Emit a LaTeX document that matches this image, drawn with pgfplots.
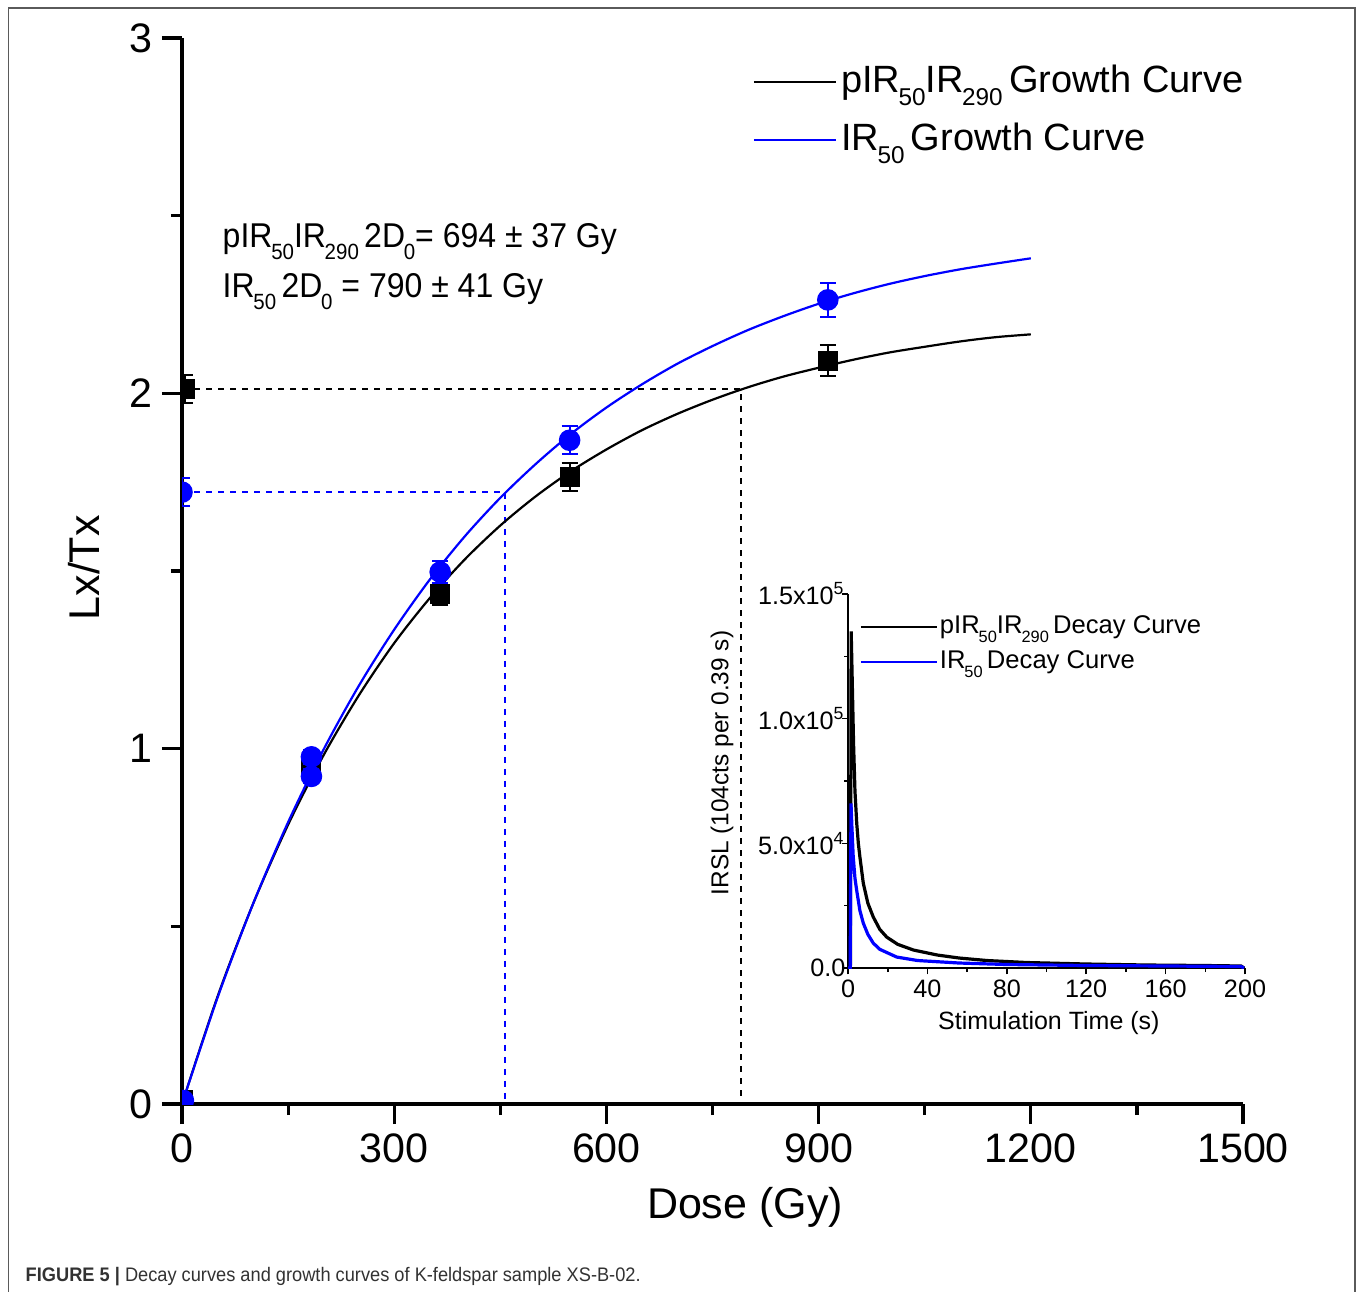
\documentclass[border=0pt]{standalone}
\usepackage{fontspec}
\setmainfont{Liberation Sans}
\usepackage{graphicx}
\usepackage{pgfplots}
\pgfplotsset{compat=1.18}

\definecolor{framegray}{RGB}{90,90,90}
\definecolor{irblue}{RGB}{0,0,255}
\definecolor{captext}{RGB}{50,50,50}

% small lowered index, as in the Origin labels
\newcommand{\sub}[1]{\kern-0.04em\raisebox{-0.34em}{\scalebox{0.64}{#1}}}

\begin{document}
\begin{tikzpicture}
\path[use as bounding box] (0,0) rectangle (339.5pt,-323pt);
\draw[framegray, line width=0.45pt] (2.1pt,-324pt) -- (2.1pt,-2.1pt) -- (338.7pt,-2.1pt) -- (338.7pt,-324pt);

% growth curves
\begin{axis}[
  at={(45.5pt,-276pt)}, anchor=south west,
  scale only axis, width=265.25pt, height=266.5pt,
  xmin=0, xmax=1500, ymin=0, ymax=3,
  axis x line*=bottom, axis y line*=left,
  axis line style={line width=0.8pt},
  xtick={0,300,...,1500}, ytick={0,1,2,3},
  minor x tick num=1, minor y tick num=1,
  tick align=outside,
  major tick length=5pt, minor tick length=2.8pt,
  every tick/.style={black, line width=0.8pt},
  tick label style={font=\fontsize{10.3}{12}\selectfont},
  xticklabel style={yshift=1pt},
  yticklabel style={xshift=1.2pt},
  /pgf/number format/assume math mode=true,
  /pgf/number format/1000 sep={},
  xlabel={Dose (Gy)}, ylabel={Lx/Tx},
  label style={font=\fontsize{10.75}{13}\selectfont},
  xlabel style={at={(axis description cs:0.5306,-0.0966)}, anchor=center},
  ylabel style={at={(axis description cs:-0.0924,0.503)}, anchor=center},
  clip marker paths=true,
  legend style={at={(rel axis cs:0.538,0.981)}, anchor=north west,
    draw=none, fill=none, inner sep=0pt, outer sep=0pt,
    font=\fontsize{9.5}{12}\selectfont, row sep=2.5pt,
    nodes={inner sep=1pt, text height=7.5pt, text depth=2.5pt}},
  legend cell align=left,
  legend image code/.code={\draw[#1] (0pt,0pt) -- (20.5pt,0pt);},
]
\addplot[black, line width=0.5pt, dash pattern=on 1.5pt off 1.5pt, forget plot]
  coordinates {(0,2.012) (790,2.012) (790,0)};
\addplot[irblue, line width=0.5pt, dash pattern=on 1.5pt off 1.5pt, forget plot]
  coordinates {(0,1.722) (457,1.722) (457,0)};

\addplot[black, line width=0.55pt, smooth] coordinates {
  (0,0) (50,0.301) (100,0.561) (150,0.786) (200,0.981) (250,1.150)
  (300,1.297) (350,1.423) (400,1.533) (450,1.628) (500,1.710) (550,1.781)
  (600,1.842) (650,1.896) (700,1.942) (750,1.982) (800,2.017) (850,2.047)
  (900,2.072) (950,2.095) (1000,2.115) (1050,2.131) (1100,2.146)
  (1150,2.158) (1200,2.166)};
\addlegendentry{pIR\sub{50}IR\sub{290}\,Growth Curve}
\addplot[irblue, line width=0.55pt, smooth] coordinates {
  (0,0) (50,0.298) (100,0.561) (150,0.793) (200,0.997) (250,1.177)
  (300,1.335) (350,1.475) (400,1.598) (450,1.706) (500,1.801) (550,1.886)
  (600,1.960) (650,2.025) (700,2.083) (750,2.133) (800,2.178) (850,2.217)
  (900,2.252) (950,2.282) (1000,2.308) (1050,2.330) (1100,2.349)
  (1150,2.365) (1200,2.380)};
\addlegendentry{IR\sub{50}\,Growth Curve}

% measured Lx/Tx
\addplot[only marks, mark=square*, mark size=2.3pt, black, forget plot,
  error bars/.cd, y dir=both, y explicit,
  error bar style={line width=0.5pt},
  error mark options={rotate=90, mark size=2pt, line width=0.5pt}]
  coordinates {
  (4,2.012) +- (0,0.04)
  (2,0.01) +- (0,0)
  (183,0.948) +- (0,0.025)
  (365,1.435) +- (0,0.03)
  (548,1.765) +- (0,0.04)
  (913,2.092) +- (0,0.044)};
\addplot[only marks, mark=*, mark size=2.5pt, irblue, forget plot,
  error bars/.cd, y dir=both, y explicit,
  error bar style={line width=0.5pt},
  error mark options={rotate=90, mark size=2pt, line width=0.5pt}]
  coordinates {
  (0,1.722) +- (0,0.04)
  (2,0.01) +- (0,0)
  (183,0.977) +- (0,0.02)
  (183,0.922) +- (0,0.02)
  (365,1.497) +- (0,0.03)
  (548,1.868) +- (0,0.04)
  (913,2.263) +- (0,0.048)};
\end{axis}

\node[anchor=base west, font=\fontsize{8.6}{11}\selectfont, inner sep=0pt, xscale=0.93]
  at (55.5pt,-62pt) {pIR\sub{50}IR\sub{290}\,2D\sub{0}= 694 ± 37 Gy};
\node[anchor=base west, font=\fontsize{8.6}{11}\selectfont, inner sep=0pt, xscale=0.93]
  at (55.5pt,-74.5pt) {IR\sub{50}\,2D\sub{0} = 790 ± 41 Gy};

% decay curves (inset)
\begin{axis}[
  at={(212pt,-242pt)}, anchor=south west,
  scale only axis, width=99.25pt, height=93.5pt,
  xmin=0, xmax=200, ymin=0, ymax=150000,
  axis x line*=bottom, axis y line*=left,
  axis line style={line width=0.5pt},
  xtick={0,40,...,200}, minor x tick num=1,
  ytick={0,50000,100000,150000}, minor y tick num=1,
  yticklabels={0.0, 5.0x10\textsuperscript{4}, 1.0x10\textsuperscript{5}, 1.5x10\textsuperscript{5}},
  scaled y ticks=false,
  tick align=outside,
  major tick length=1.6pt, minor tick length=1pt,
  every tick/.style={black, line width=0.4pt},
  tick label style={font=\fontsize{6.3}{7.5}\selectfont},
  xticklabel style={yshift=2.2pt},
  yticklabel style={xshift=4.5pt},
  /pgf/number format/assume math mode=true,
  xlabel={Stimulation Time (s)}, ylabel={IRSL (104cts per 0.39 s)},
  xlabel style={font=\fontsize{6.25}{7.5}\selectfont, at={(axis description cs:0.506,-0.146)}, anchor=center},
  ylabel style={font=\fontsize{6.1}{7.5}\selectfont, at={(axis description cs:-0.317,0.548)}, anchor=center},
  legend style={at={(rel axis cs:0.03,0.953)}, anchor=north west,
    draw=none, fill=none, inner sep=0pt, outer sep=0pt,
    font=\fontsize{6.4}{8}\selectfont, row sep=1pt,
    nodes={inner sep=0.5pt, text height=5pt, text depth=1.75pt}},
  legend cell align=left,
  legend image code/.code={\draw[#1, line width=0.5pt] (0pt,0pt) -- (19pt,0pt);},
]
\addplot[black, line width=0.8pt] coordinates {
  (0,0) (1.2,0) (1.6,135000) (2.0,120000) (2.8,90000) (3.5,71000)
  (4.4,58000) (5.2,50000) (6,44500) (7.7,34000) (10,26000) (12.7,20500)
  (16,15500) (19.5,12400) (25,9500) (33,7200) (45,5200) (56,4000)
  (70,3000) (90,2200) (120,1600) (150,1200) (180,1000) (198,800) (199.5,0)};
\addlegendentry{pIR\sub{50}IR\sub{290}\,Decay Curve}
\addplot[irblue, line width=0.8pt] coordinates {
  (0,0) (1.1,0) (1.5,66000) (2.0,56000) (2.6,45000) (3.5,36000)
  (4.4,31000) (6,23000) (7.7,18000) (10,13500) (12.7,10000) (16,7500)
  (24.5,4400) (35,3000) (56,2000) (80,1400) (120,1000) (160,800)
  (198,600) (199.5,0)};
\addlegendentry{IR\sub{50}\,Decay Curve}
\end{axis}

\node[anchor=west, inner sep=0pt, xscale=0.93, text=captext,
  font=\fontsize{4.9}{6}\selectfont] at (6.25pt,-319.25pt)
  {\textbf{FIGURE 5 |} Decay curves and growth curves of K-feldspar sample XS-B-02.};
\end{tikzpicture}
\end{document}
